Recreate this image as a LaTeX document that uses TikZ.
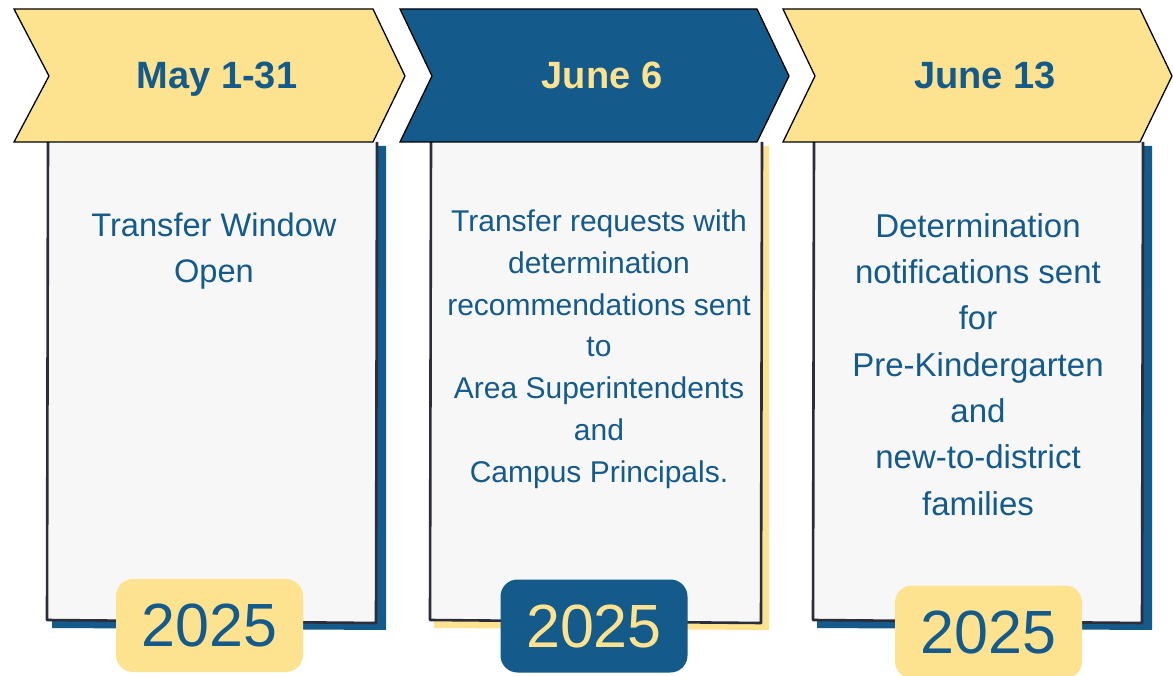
\documentclass[tikz,border=0pt]{standalone}
\usepackage{fontspec}
\setmainfont{Liberation Sans}
\definecolor{tyellow}{HTML}{FDE38F}
\definecolor{tblue}{HTML}{145A8A}
\definecolor{cardgray}{HTML}{F7F7F7}
\definecolor{inkline}{HTML}{2B2D3B}

\begin{document}
\begin{tikzpicture}[x=1pt, y=-1pt]
    \tikzstyle{chevron} = [draw=black, line width=1.3pt, line join=miter]
    \tikzstyle{card} = [draw=inkline, fill=cardgray, line width=2.6pt, line join=round]
    \tikzstyle{date label} = [anchor=base, inner sep=0pt, font=\fontsize{38}{44}\selectfont\bfseries]
    \tikzstyle{body text} = [anchor=base, align=center, inner sep=0pt, text=tblue]
    \tikzstyle{year badge} = [rounded corners=17pt, minimum width=187pt, minimum height=93pt, inner sep=0pt, font=\fontsize{61}{61}\selectfont]

    \useasboundingbox (0,0) rectangle (1173,676);

      \fill[tblue]   (54,146) -- (386,146) -- (386,630) -- (52,628) -- cycle;
      \fill[tyellow] (436,146) -- (769,146) -- (769,630) -- (434,628) -- cycle;
      \fill[tblue]   (819,146) -- (1152,146) -- (1152,630) -- (817,628) -- cycle;

      \draw[card] (48,142) -- (47,620) -- (376,623) -- (377,142);
      \draw[card] (431,142) -- (430,620) -- (761,623) -- (762,142);
      \draw[card] (814,142) -- (813,620) -- (1142,623) -- (1143,142);

      \draw[chevron, fill=tyellow] (14,9) -- (373,9) -- (405,76) -- (373,142) -- (14,142) -- (49,76) -- cycle;
      \draw[chevron, fill=tblue]   (400,9) -- (757,9) -- (789,76) -- (757,142) -- (400,142) -- (432,76) -- cycle;
      \draw[chevron, fill=tyellow] (783,9) -- (1140,9) -- (1172,76) -- (1140,142) -- (783,142) -- (815,76) -- cycle;

      \node[date label, text=tblue]   (d1) at (217,89) {May 1-31};
      \node[date label, text=tyellow] (d2) at (602,89) {June 6};
      \node[date label, text=tblue]   (d3) at (985,89) {June 13};

      \node[body text, font=\fontsize{32.6}{46}\selectfont] (t1) at (214,283) {Transfer Window\\Open};
      \node[body text, font=\fontsize{30}{41.7}\selectfont] (t2) at (599,482) {Transfer requests with\\determination\\recommendations sent\\to\\Area Superintendents\\and\\Campus Principals.};
      \node[body text, font=\fontsize{33}{46.3}\selectfont] (t3) at (978,515) {Determination\\notifications sent\\for\\Pre-Kindergarten\\and\\new-to-district\\families};

      \node[year badge, fill=tyellow, text=tblue] (y1) at (209.5,625.5) {2025};
      \node[year badge, fill=tblue, text=tyellow] (y2) at (594,626) {2025};
      \node[year badge, fill=tyellow, text=tblue] (y3) at (988.5,632) {2025};
    \end{tikzpicture}
\end{document}
